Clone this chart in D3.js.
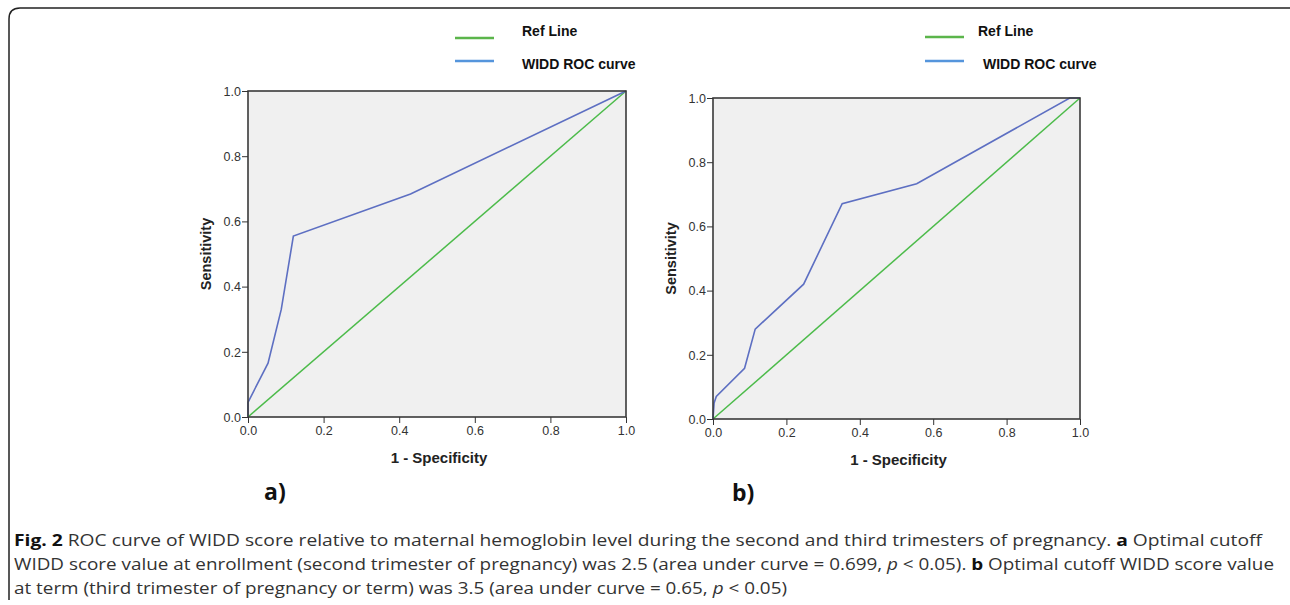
<!DOCTYPE html>
<html>
<head>
<meta charset="utf-8">
<script src="https://cdn.jsdelivr.net/npm/d3@7"></script>
<style>
  body { margin: 0; background: #fff; }
  svg { display: block; }
  .tick text { font-family: "Liberation Sans", Arial, sans-serif; font-size: 12.5px; fill: #333; }
  .tick line { stroke: #333; }
</style>
</head>
<body>
<svg width="1290" height="605"></svg>
<script>
// data
var ticks = [0, 0.2, 0.4, 0.6, 0.8, 1.0];
var refLine = [[0, 0], [1, 1]];
var rocA = [[0, 0], [0, 0.045], [0.053, 0.165], [0.088, 0.33], [0.12, 0.555], [0.43, 0.684], [1, 1]];
var rocB = [[0, 0], [0.003, 0.05], [0.009, 0.07], [0.086, 0.158], [0.115, 0.28], [0.247, 0.42], [0.352, 0.671], [0.555, 0.733], [0.972, 1], [1, 1]];
var legendLabels = ["Ref Line", "WIDD ROC curve"];

var svg = d3.select("svg");

// frame round the figure
svg.append("path")
    .attr("d", "M9,600 V19 Q9,8 20,8 H1290")
    .attr("fill", "none")
    .attr("stroke", "#222")
    .attr("stroke-width", 1.5);

function panel(box, roc, label, leg) {
    var x = d3.scaleLinear().domain([0, 1]).range([box.left, box.right]);
    var y = d3.scaleLinear().domain([0, 1]).range([box.bottom, box.top]);

    var g = svg.append("g");

    g.append("rect")
        .attr("x", x(0)).attr("y", y(1))
        .attr("width", x(1) - x(0)).attr("height", y(0) - y(1))
        .attr("fill", "#f0f0f0");

    var line = d3.line().x(function (d) { return x(d[0]); }).y(function (d) { return y(d[1]); });

    g.append("path").datum(refLine)
        .attr("d", line).attr("fill", "none")
        .attr("stroke", "#4cbb4a").attr("stroke-width", 1.5);

    g.append("path").datum(roc)
        .attr("d", line).attr("fill", "none")
        .attr("stroke", "#5d6fc2").attr("stroke-width", 1.6);

    g.append("rect")
        .attr("x", x(0)).attr("y", y(1))
        .attr("width", x(1) - x(0)).attr("height", y(0) - y(1))
        .attr("fill", "none").attr("stroke", "#3a3a3a").attr("stroke-width", 1.6);

    var ax = g.append("g")
        .attr("transform", "translate(0," + box.bottom + ")")
        .call(d3.axisBottom(x).tickValues(ticks).tickFormat(d3.format(".1f")).tickSize(6).tickPadding(3));
    ax.select(".domain").remove();

    var ay = g.append("g")
        .attr("transform", "translate(" + box.left + ",0)")
        .call(d3.axisLeft(y).tickValues(ticks).tickFormat(d3.format(".1f")).tickSize(6).tickPadding(1));
    ay.select(".domain").remove();
    ay.selectAll(".tick text").attr("dy", "0.35em");

    g.append("text")
        .attr("x", (box.left + box.right) / 2 + 2)
        .attr("y", box.bottom + 46)
        .attr("text-anchor", "middle")
        .attr("font-family", "Liberation Sans, Arial, sans-serif")
        .attr("font-weight", "bold")
        .attr("font-size", 15)
        .attr("fill", "#222")
        .text("1 - Specificity");

    g.append("text")
        .attr("transform", "translate(" + (box.left - 37) + "," + ((box.top + box.bottom) / 2) + ") rotate(-90)")
        .attr("text-anchor", "middle")
        .attr("font-family", "Liberation Sans, Arial, sans-serif")
        .attr("font-weight", "bold")
        .attr("font-size", 14.5)
        .attr("fill", "#222")
        .text("Sensitivity");

    g.append("text")
        .attr("x", label.x).attr("y", label.y)
        .attr("font-family", "Open Sans, sans-serif")
        .attr("font-weight", "bold")
        .attr("font-size", 23)
        .attr("fill", "#111")
        .text(label.text);

    // legend
    var colors = ["#5bb54b", "#5595dc"];
    var items = g.append("g").selectAll("g")
        .data(legendLabels)
        .enter().append("g");

    items.append("line")
        .attr("x1", leg.x).attr("x2", leg.x + 39)
        .attr("y1", function (d, i) { return leg.lineY[i]; })
        .attr("y2", function (d, i) { return leg.lineY[i]; })
        .attr("stroke", function (d, i) { return colors[i]; })
        .attr("stroke-width", 2.5);

    items.append("text")
        .attr("x", function (d, i) { return leg.tx + (i === 1 ? leg.shift : 0); })
        .attr("y", function (d, i) { return leg.textY[i]; })
        .attr("font-family", "Liberation Sans, Arial, sans-serif")
        .attr("font-weight", "bold")
        .attr("font-size", 14)
        .attr("fill", "#111")
        .text(function (d) { return d; });
}

panel({ left: 248, right: 626, top: 91, bottom: 417 }, rocA,
      { x: 264, y: 500, text: "a)" },
      { x: 455, lineY: [38, 61], tx: 522, textY: [36, 69], shift: 0 });

panel({ left: 713, right: 1080, top: 98, bottom: 419 }, rocB,
      { x: 732, y: 501, text: "b)" },
      { x: 925, lineY: [37, 61], tx: 978, textY: [36, 69], shift: 5 });

// caption
var capLines = [
    [["Fig. 2", "bold"], [" ROC curve of WIDD score relative to maternal hemoglobin level during the second and third trimesters of pregnancy. ", ""], ["a", "bold"], [" Optimal cutoff", ""]],
    [["WIDD score value at enrollment (second trimester of pregnancy) was 2.5 (area under curve = 0.699, ", ""], ["p", "italic"], [" < 0.05). ", ""], ["b", "bold"], [" Optimal cutoff WIDD score value", ""]],
    [["at term (third trimester of pregnancy or term) was 3.5 (area under curve = 0.65, ", ""], ["p", "italic"], [" < 0.05)", ""]]
];
var capWidths = [1248, 1260, 773];

var cap = svg.append("g")
    .attr("font-family", "Open Sans, sans-serif")
    .attr("font-size", 15.5)
    .attr("fill", "#333");

capLines.forEach(function (parts, i) {
    var t = cap.append("text")
        .attr("x", 14)
        .attr("y", 546 + i * 24)
        .attr("textLength", capWidths[i])
        .attr("lengthAdjust", "spacingAndGlyphs");
    parts.forEach(function (p) {
        var s = t.append("tspan").text(p[0]);
        if (p[1] === "bold") s.attr("font-weight", "bold").attr("fill", "#111");
        if (p[1] === "italic") s.attr("font-style", "italic");
    });
});
</script>
</body>
</html>
